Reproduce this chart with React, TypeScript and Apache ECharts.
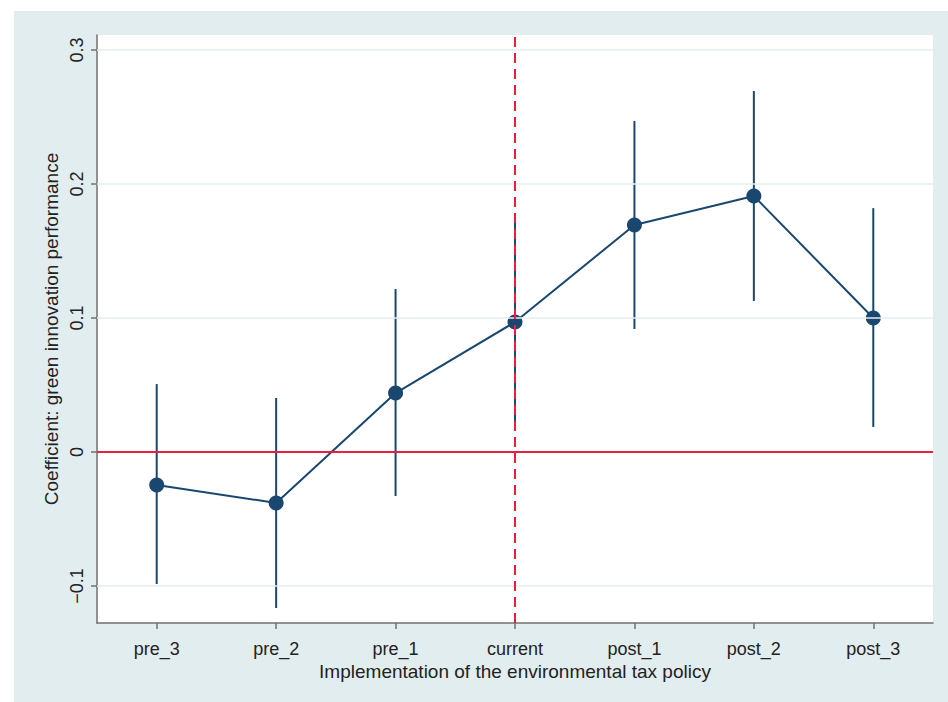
import React, { useEffect, useRef } from "react";
import * as echarts from "echarts";

const categories = ["pre_3", "pre_2", "pre_1", "current", "post_1", "post_2", "post_3"];
const coef = [-0.0246, -0.038, 0.044, 0.097, 0.1694, 0.191, 0.1];
const ciLow = [-0.0985, -0.1164, -0.0328, 0.02, 0.0918, 0.1127, 0.0187];
const ciHigh = [0.0507, 0.0403, 0.1216, 0.176, 0.247, 0.2694, 0.182];
const yTicks = [-0.1, 0, 0.1, 0.2, 0.3];
const yTickLabels = ["\u22120.1", "0", "0.1", "0.2", "0.3"];
const gridValues = [-0.1, 0.1, 0.2, 0.3];
const eventCategory = "current";

const NAVY = "#1a476f";
const RED = "#e8203f";
const FONT = "Liberation Sans, Arial, sans-serif";

export default function App() {
  const ref = useRef<HTMLDivElement>(null);
  useEffect(() => {
    document.body.style.margin = "0";
    const chart = echarts.init(ref.current!, null, { renderer: "svg" });
    const option: any = {
      animation: false,
      backgroundColor: "#ffffff",
      graphic: [
        {
          type: "rect",
          z: -10,
          silent: true,
          shape: { x: 14, y: 11, width: 934, height: 691 },
          style: { fill: "#e2edef" },
        },
      ],
      grid: {
        left: 97,
        top: 35,
        right: 15,
        bottom: 79,
        show: true,
        backgroundColor: "#ffffff",
        borderWidth: 0,
      },
      xAxis: {
        type: "category",
        data: categories,
        boundaryGap: true,
        name: "Implementation of the environmental tax policy",
        nameLocation: "middle",
        nameGap: 39,
        nameMoveOverlap: false,
        nameTextStyle: { fontFamily: FONT, fontSize: 19, color: "#222" },
        axisLine: { show: true, onZero: false, lineStyle: { color: "#707070", width: 1.5 } },
        axisTick: { show: true, alignWithLabel: true, length: 6, lineStyle: { color: "#707070", width: 1.5 } },
        axisLabel: { fontFamily: FONT, fontSize: 18, color: "#222", margin: 17 },
        splitLine: { show: false },
      },
      yAxis: {
        type: "value",
        min: -0.1276,
        max: 0.3112,
        name: "Coefficient: green innovation performance",
        nameLocation: "middle",
        nameGap: 36,
        nameRotate: 90,
        nameMoveOverlap: false,
        nameTextStyle: { fontFamily: FONT, fontSize: 19, color: "#222" },
        axisLine: { show: true, onZero: false, lineStyle: { color: "#707070", width: 1.5 } },
        axisTick: {
          show: true,
          length: 6,
          customValues: yTicks,
          lineStyle: { color: "#707070", width: 1.5 },
        },
        axisLabel: {
          fontFamily: FONT,
          fontSize: 18,
          color: "#222",
          rotate: 90,
          margin: 11,
          customValues: yTicks,
          formatter: (v: number) => {
            const i = yTicks.findIndex((t) => Math.abs(t - v) < 1e-9);
            return i >= 0 ? yTickLabels[i] : "";
          },
        },
        splitLine: { show: false },
      },
      series: [
        {
          type: "line",
          data: [],
          silent: true,
          z: 1,
          markLine: {
            silent: true,
            symbol: "none",
            label: { show: false },
            lineStyle: { color: "#e4eef1", width: 1.5, type: "solid" },
            data: gridValues.map((v) => ({ yAxis: v })),
          },
        },
        {
          type: "line",
          data: [],
          silent: true,
          z: 2,
          markLine: {
            silent: true,
            symbol: "none",
            label: { show: false },
            data: [
              { yAxis: 0, lineStyle: { color: RED, width: 2, type: "solid" } },
              { xAxis: eventCategory, lineStyle: { color: RED, width: 2, type: [10, 6] } },
            ],
          },
        },
        {
          type: "custom",
          z: 3,
          silent: true,
          data: categories.map((c, i) => [i, ciLow[i], ciHigh[i]]),
          renderItem: (params: any, api: any) => {
            const p1 = api.coord([api.value(0), api.value(1)]);
            const p2 = api.coord([api.value(0), api.value(2)]);
            return {
              type: "line",
              shape: { x1: p1[0], y1: p1[1], x2: p2[0], y2: p2[1] },
              style: { stroke: NAVY, lineWidth: 2 },
            };
          },
          encode: { x: 0, y: [1, 2] },
        },
        {
          type: "line",
          z: 4,
          data: coef,
          symbol: "circle",
          symbolSize: 15,
          lineStyle: { color: NAVY, width: 2 },
          itemStyle: { color: NAVY },
        },
      ],
    };
    chart.setOption(option);
    return () => chart.dispose();
  }, []);
  return <div ref={ref} style={{ width: 948, height: 702 }} />;
}
